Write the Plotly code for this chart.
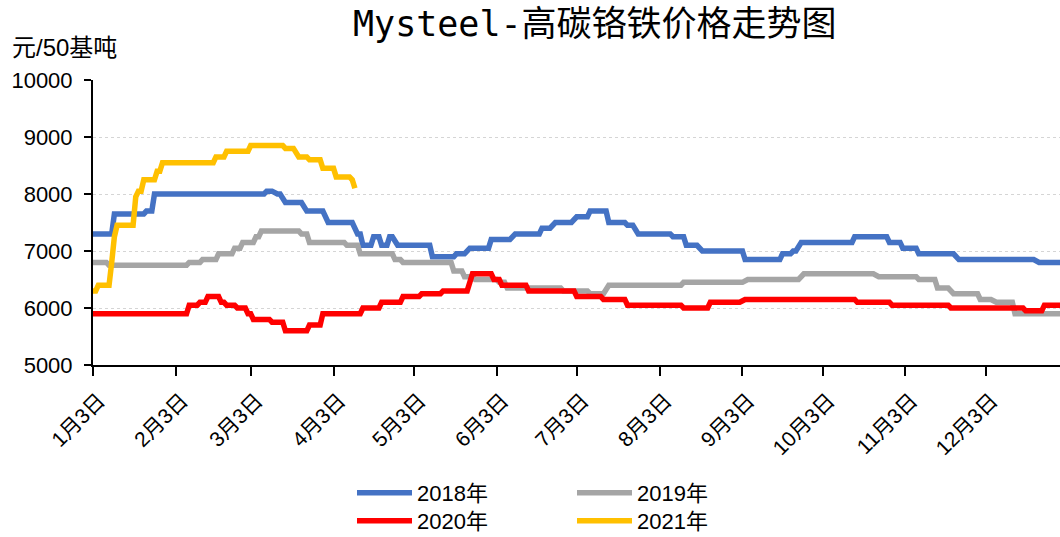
import plotly.graph_objects as go
import pandas as pd

# ---------------- data ----------------
dates_2018 = ["01-03", "01-10", "01-11", "01-22", "01-23", "01-25", "01-26", "03-08", "03-09", "03-11",
              "03-13", "03-14", "03-16", "03-22", "03-24", "03-30", "04-01", "04-10", "04-12", "04-13",
              "04-14", "04-17", "04-18", "04-20", "04-21", "04-23", "04-24", "04-25", "04-27", "05-09",
              "05-10", "05-18", "05-19", "05-22", "05-24", "05-31", "06-01", "06-08", "06-10", "06-19",
              "06-20", "06-23", "06-25", "07-01", "07-03", "07-07", "07-08", "07-14", "07-15", "07-21",
              "07-22", "07-24", "07-26", "08-07", "08-08", "08-12", "08-13", "08-17", "08-19", "09-03",
              "09-04", "09-17", "09-18", "09-21", "09-22", "09-23", "09-25", "10-14", "10-15", "10-27",
              "10-28", "11-01", "11-02", "11-07", "11-08", "11-21", "11-23", "12-21", "12-23", "12-31"]
values_2018 = [7300, 7300, 7650, 7650, 7700, 7700, 8000, 8000, 8050, 8050,
               8000, 8000, 7850, 7850, 7700, 7700, 7500, 7500, 7300, 7300,
               7100, 7100, 7250, 7250, 7100, 7100, 7250, 7250, 7100, 7100,
               6900, 6900, 6950, 6950, 7050, 7050, 7200, 7200, 7300, 7300,
               7400, 7400, 7500, 7500, 7600, 7600, 7700, 7700, 7500, 7500,
               7450, 7450, 7300, 7300, 7250, 7250, 7100, 7100, 7000, 7000,
               6850, 6850, 6950, 6950, 7000, 7000, 7150, 7150, 7250, 7250,
               7150, 7150, 7050, 7050, 6950, 6950, 6850, 6850, 6800, 6800]

dates_2019 = ["01-03", "01-08", "01-09", "02-07", "02-08", "02-12", "02-13", "02-18", "02-19", "02-24",
              "02-25", "02-27", "02-28", "03-04", "03-05", "03-06", "03-07", "03-21", "03-22", "03-24",
              "03-25", "04-07", "04-08", "04-12", "04-13", "04-25", "04-26", "04-28", "04-29", "05-17",
              "05-18", "05-21", "05-22", "05-25", "05-26", "06-03", "06-04", "06-06", "06-07", "06-27",
              "06-28", "07-07", "07-08", "07-13", "07-15", "08-11", "08-12", "09-03", "09-05", "09-24",
              "09-26", "10-22", "10-24", "11-07", "11-08", "11-14", "11-15", "11-19", "11-21", "11-30",
              "12-01", "12-05", "12-07", "12-13", "12-14", "12-31"]
values_2019 = [6800, 6800, 6750, 6750, 6800, 6800, 6850, 6850, 6950, 6950,
               7050, 7050, 7150, 7150, 7250, 7250, 7350, 7350, 7300, 7300,
               7150, 7150, 7100, 7100, 6950, 6950, 6850, 6850, 6800, 6800,
               6650, 6650, 6550, 6550, 6500, 6500, 6450, 6450, 6350, 6350,
               6300, 6300, 6250, 6250, 6400, 6400, 6450, 6450, 6500, 6500,
               6600, 6600, 6550, 6550, 6500, 6500, 6350, 6350, 6250, 6250,
               6150, 6150, 6100, 6100, 5900, 5900]

dates_2020 = ["01-03", "02-07", "02-08", "02-11", "02-12", "02-14", "02-15", "02-19", "02-20", "02-21",
              "02-22", "02-25", "02-26", "03-01", "03-02", "03-03", "03-04", "03-10", "03-11", "03-15",
              "03-16", "03-24", "03-25", "03-29", "03-30", "04-13", "04-14", "04-20", "04-21", "04-28",
              "04-29", "05-05", "05-06", "05-13", "05-14", "05-23", "05-25", "06-01", "06-02", "06-04",
              "06-05", "06-14", "06-15", "07-02", "07-03", "07-12", "07-13", "07-21", "07-22", "08-11",
              "08-12", "08-21", "08-22", "09-02", "09-04", "10-15", "10-16", "10-28", "10-29", "11-19",
              "11-20", "12-17", "12-18", "12-24", "12-25", "12-31"]
values_2020 = [5900, 5900, 6050, 6050, 6100, 6100, 6200, 6200, 6100, 6100,
               6050, 6050, 6000, 6000, 5900, 5900, 5800, 5800, 5750, 5750,
               5600, 5600, 5700, 5700, 5900, 5900, 6000, 6000, 6100, 6100,
               6200, 6200, 6250, 6250, 6300, 6300, 6600, 6600, 6500, 6500,
               6400, 6400, 6300, 6300, 6200, 6200, 6150, 6150, 6050, 6050,
               6000, 6000, 6100, 6100, 6150, 6150, 6100, 6100, 6050, 6050,
               6000, 6000, 5950, 5950, 6050, 6050]

dates_2021 = ["01-03", "01-04", "01-05", "01-09", "01-10", "01-11", "01-12", "01-18", "01-19", "01-20",
              "01-21", "01-22", "01-26", "01-27", "01-28", "01-29", "02-17", "02-18", "02-21", "02-22",
              "03-02", "03-03", "03-15", "03-16", "03-19", "03-21", "03-24", "03-25", "03-29", "03-30",
              "04-03", "04-04", "04-09", "04-10", "04-11"]
values_2021 = [6300, 6300, 6400, 6400, 6800, 7250, 7450, 7450, 7950, 8050,
               8050, 8250, 8250, 8400, 8400, 8550, 8550, 8650, 8650, 8750,
               8750, 8850, 8850, 8800, 8800, 8650, 8650, 8600, 8600, 8450,
               8450, 8300, 8300, 8250, 8100]

series_names = ["2018年", "2019年", "2020年", "2021年"]
series_colors = ["#4472C4", "#A5A5A5", "#FF0000", "#FFC000"]

tick_dates = ["01-03", "02-03", "03-03", "04-03", "05-03", "06-03",
              "07-03", "08-03", "09-03", "10-03", "11-03", "12-03"]
tick_labels = ["1月3日", "2月3日", "3月3日", "4月3日", "5月3日", "6月3日",
               "7月3日", "8月3日", "9月3日", "10月3日", "11月3日", "12月3日"]

y_ticks = [5000, 6000, 7000, 8000, 9000, 10000]
y_tick_labels = ["5000", "6000", "7000", "8000", "9000", "10000"]

title_text = "Mysteel-高碳铬铁价格走势图"
unit_text = "元/50基吨"

# ---------------- figure ----------------
BASE_YEAR = "2021-"
def to_dt(lst):
    return pd.to_datetime([BASE_YEAR + d for d in lst])

all_dates = [dates_2018, dates_2019, dates_2020, dates_2021]
all_values = [values_2018, values_2019, values_2020, values_2021]
legend_ids = ["legend", "legend", "legend2", "legend2"]

CJK = "Noto Sans CJK SC"
LAT = "Liberation Sans, Noto Sans CJK SC"

fig = go.Figure()
for name, color, d, v, lg in zip(series_names, series_colors, all_dates, all_values, legend_ids):
    fig.add_trace(go.Scatter(
        x=to_dt(d), y=v, name=name, mode="lines",
        line=dict(color=color, width=5.5),
        legend=lg,
    ))

W, H = 1060, 537
L, R, T, B = 93, 0, 80, 172
pw = W - L - R
ph = H - T - B

leg_common = dict(orientation="h", xanchor="left", yanchor="middle",
                  font=dict(family=LAT, size=22, color="black"),
                  itemwidth=55, entrywidth=150, traceorder="normal",
                  bgcolor="rgba(0,0,0,0)")

fig.update_layout(
    width=W, height=H,
    margin=dict(l=L, r=R, t=T, b=B, pad=0, autoexpand=False),
    paper_bgcolor="white", plot_bgcolor="white",
    font=dict(family=LAT, size=20, color="black"),
    showlegend=True,
    legend=dict(x=(352 - L) / pw, y=(H - B - 493) / ph, **leg_common),
    legend2=dict(x=(352 - L) / pw, y=(H - B - 521) / ph, **leg_common),
)

fig.update_xaxes(
    type="date",
    range=["2021-01-03", "2021-12-30 20:00"],
    tickmode="array",
    tickvals=to_dt(tick_dates),
    ticktext=tick_labels,
    tickangle=-45,
    tickfont=dict(family=LAT, size=21, color="black"),
    ticklabelshift=6, ticklabelstandoff=4,
    ticks="outside", ticklen=9, tickwidth=1.5, tickcolor="black",
    showline=True, linecolor="black", linewidth=2,
    showgrid=False, zeroline=False, automargin=False,
)
fig.update_yaxes(
    range=[5000, 10000],
    tickmode="array", tickvals=y_ticks, ticktext=y_tick_labels,
    tickfont=dict(family=LAT, size=22, color="black"),
    ticks="outside", ticklen=7, tickwidth=1.5, tickcolor="black",
    ticklabelstandoff=7,
    showline=True, linecolor="black", linewidth=2,
    showgrid=True, gridcolor="#D5D5D5", gridwidth=1, griddash="dot",
    zeroline=False, automargin=False,
)

fig.add_annotation(
    text=title_text, xref="paper", yref="paper",
    x=(595 - L) / pw, y=(H - B - 24) / ph, xanchor="center", yanchor="middle",
    showarrow=False, font=dict(family="DejaVu Sans Mono, " + CJK, size=35, color="black"),
)
fig.add_annotation(
    text=unit_text, xref="paper", yref="paper",
    x=(10 - L) / pw, y=(H - B - 47) / ph, xanchor="left", yanchor="middle",
    showarrow=False, font=dict(family=LAT, size=24, color="black"),
)

fig.write_html("out.html", config={"displayModeBar": False},
               post_script="document.body.style.margin='0px';")
